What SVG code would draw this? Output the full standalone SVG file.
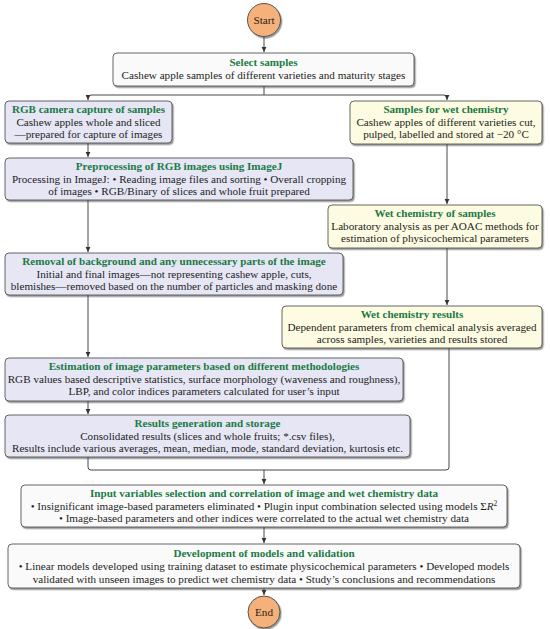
<svg xmlns="http://www.w3.org/2000/svg" width="550" height="629" viewBox="0 0 550 629">
<defs>
<style>
text{font-family:"Liberation Serif","DejaVu Serif",serif;font-size:11.15px;text-anchor:middle;fill:#1e1e1e}
.t{fill:#1b7a45;font-weight:bold;font-size:11.1px}
.box{stroke:#555;stroke-width:0.9}
.l{fill:#e6e6f4}
.r{fill:#fdfbe1}
.w{fill:#fafafa}
.c{fill:#f6b07a;stroke:#555;stroke-width:1}
.cn{fill:none;stroke:#333;stroke-width:0.9}
</style>
<filter id="sh" x="-5%" y="-10%" width="110%" height="130%">
<feDropShadow dx="1.3" dy="1.6" stdDeviation="0.7" flood-color="#444" flood-opacity="0.55"/>
</filter>
<marker id="ar" markerWidth="6" markerHeight="6" refX="5" refY="3" orient="auto" markerUnits="userSpaceOnUse">
<path d="M0,0.6 L5,3 L0,5.4 Z" fill="#333"/>
</marker>
</defs>
<rect width="550" height="629" fill="#fff"/>

<g id="connectors">
<path class="cn" d="M264,37 V52" marker-end="url(#ar)"/>
<path class="cn" d="M264,86 V95"/>
<path class="cn" d="M91,95 H444 Q447,95 447,98 V100" marker-end="url(#ar)"/>
<path class="cn" d="M91,95 Q88,95 88,98 V100" marker-end="url(#ar)"/>
<path class="cn" d="M88,143 V157" marker-end="url(#ar)"/>
<path class="cn" d="M88,200 V252" marker-end="url(#ar)"/>
<path class="cn" d="M88,295 V357" marker-end="url(#ar)"/>
<path class="cn" d="M88,401 V414" marker-end="url(#ar)"/>
<path class="cn" d="M88,457 V467 Q88,470 91,470 H446 Q449,470 449,467 V348"/>
<path class="cn" d="M264,470 V484" marker-end="url(#ar)"/>
<path class="cn" d="M447,144 V204" marker-end="url(#ar)"/>
<path class="cn" d="M447,248 V305" marker-end="url(#ar)"/>
<path class="cn" d="M264,527 V543" marker-end="url(#ar)"/>
<path class="cn" d="M264,588 V595" marker-end="url(#ar)"/>
</g>

<g id="start">
<circle class="c" cx="264" cy="20" r="16.5" filter="url(#sh)"/>
<text x="264" y="24">Start</text>
</g>

<g id="select">
<rect class="box w" x="113" y="53" width="301" height="33" rx="4" filter="url(#sh)"/>
<text class="t" x="263.5" y="66">Select samples</text>
<text x="263.5" y="79">Cashew apple samples of different varieties and maturity stages</text>
</g>

<g id="rgb">
<rect class="box l" x="5" y="101" width="167" height="42" rx="4" filter="url(#sh)"/>
<text class="t" x="88.5" y="113">RGB camera capture of samples</text>
<text x="88.5" y="125.5">Cashew apples whole and sliced</text>
<text x="88.5" y="138">—prepared for capture of images</text>
</g>

<g id="wetsamples">
<rect class="box r" x="350" y="101" width="192" height="43" rx="4" filter="url(#sh)"/>
<text class="t" x="446" y="113">Samples for wet chemistry</text>
<text x="446" y="125.5">Cashew apples of different varieties cut,</text>
<text x="446" y="138">pulped, labelled and stored at −20 °C</text>
</g>

<g id="preproc">
<rect class="box l" x="5" y="158" width="348" height="42" rx="4" filter="url(#sh)"/>
<text class="t" x="179" y="170">Preprocessing of RGB images using ImageJ</text>
<text x="179" y="182.5">Processing in ImageJ: • Reading image files and sorting • Overall cropping</text>
<text x="179" y="195">of images •  RGB/Binary of slices and whole fruit prepared</text>
</g>

<g id="wetchem">
<rect class="box r" x="328" y="205" width="214" height="43" rx="4" filter="url(#sh)"/>
<text class="t" x="435" y="217">Wet chemistry of samples</text>
<text x="435" y="229.5">Laboratory analysis as per AOAC methods for</text>
<text x="435" y="242">estimation of physicochemical parameters</text>
</g>

<g id="removal">
<rect class="box l" x="5" y="253" width="338" height="42" rx="4" filter="url(#sh)"/>
<text class="t" x="174" y="265">Removal of background and any unnecessary parts of the image</text>
<text x="174" y="277.5">Initial and final images—not representing cashew apple, cuts,</text>
<text x="174" y="290">blemishes—removed based on the number of particles and masking done</text>
</g>

<g id="wetresults">
<rect class="box r" x="282" y="306" width="260" height="42" rx="4" filter="url(#sh)"/>
<text class="t" x="412" y="318">Wet chemistry results</text>
<text x="412" y="330.5">Dependent parameters from chemical analysis averaged</text>
<text x="412" y="343">across samples, varieties and results stored</text>
</g>

<g id="estimation">
<rect class="box l" x="5" y="358" width="398" height="43" rx="4" filter="url(#sh)"/>
<text class="t" x="204" y="370">Estimation of image parameters based on different methodologies</text>
<text x="204" y="382.5">RGB values based descriptive statistics, surface morphology (waveness and roughness),</text>
<text x="204" y="395">LBP, and color indices parameters calculated for user’s input</text>
</g>

<g id="results">
<rect class="box l" x="5" y="415" width="405" height="42" rx="4" filter="url(#sh)"/>
<text class="t" x="207.5" y="427">Results generation and storage</text>
<text x="207.5" y="439.5">Consolidated results (slices and whole fruits; *.csv files),</text>
<text x="207.5" y="452">Results include various averages, mean, median, mode, standard deviation, kurtosis etc.</text>
</g>

<g id="input">
<rect class="box w" x="21" y="485" width="486" height="42" rx="4" filter="url(#sh)"/>
<text class="t" x="264" y="497">Input variables selection and correlation of image and wet chemistry data</text>
<text x="264" y="509.5">• Insignificant image-based parameters eliminated • Plugin input combination selected using models Σ<tspan font-style="italic">R</tspan><tspan font-size="7.5" dy="-4">2</tspan></text>
<text x="264" y="522">• Image-based parameters and other indices were correlated to the actual wet chemistry data</text>
</g>

<g id="development">
<rect class="box w" x="8" y="544" width="512" height="44" rx="4" filter="url(#sh)"/>
<text class="t" x="264" y="556.5">Development of models and validation</text>
<text x="264" y="569.5">• Linear models developed using training dataset to estimate physicochemical parameters  • Developed models</text>
<text x="264" y="582.5">validated with unseen images to predict wet chemistry data  • Study’s conclusions and recommendations</text>
</g>

<g id="end">
<circle class="c" cx="264" cy="612" r="16" filter="url(#sh)"/>
<text x="264" y="616">End</text>
</g>
</svg>
